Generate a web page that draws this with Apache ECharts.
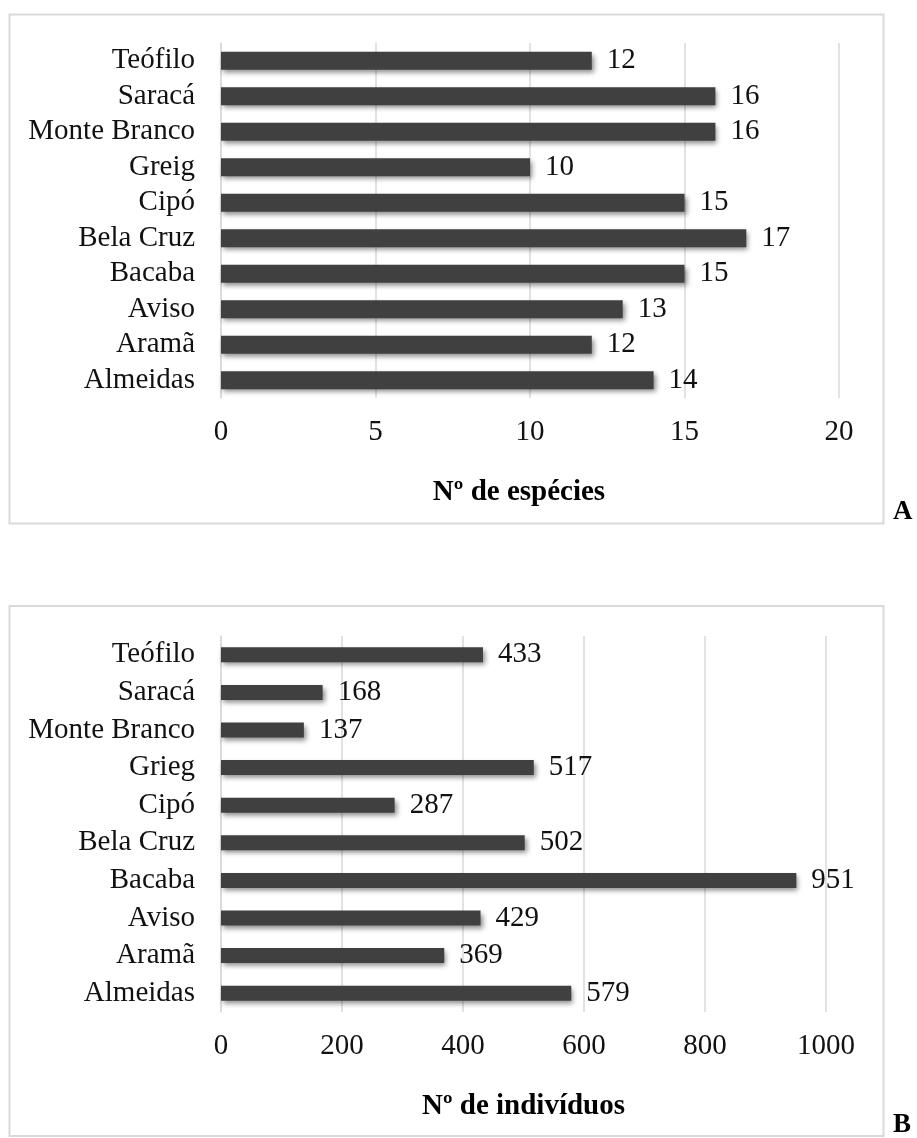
<!DOCTYPE html>
<html>
<head>
<meta charset="utf-8">
<script src="https://cdn.jsdelivr.net/npm/echarts@6/dist/echarts.min.js"></script>
<style>
html,body{margin:0;padding:0;background:#fff;}
#chart{width:917px;height:1138px;}
</style>
</head>
<body>
<div id="chart"></div>
<script>
// Categories listed bottom to top
const categoriesA = ['Almeidas','Aramã','Aviso','Bacaba','Bela Cruz','Cipó','Greig','Monte Branco','Saracá','Teófilo'];
const categoriesB = ['Almeidas','Aramã','Aviso','Bacaba','Bela Cruz','Cipó','Grieg','Monte Branco','Saracá','Teófilo'];
const especies = [14, 12, 13, 15, 17, 15, 10, 16, 16, 12];
const individuos = [579, 369, 429, 951, 502, 287, 517, 137, 168, 433];
const ticksA = {min: 0, max: 20, interval: 5};
const ticksB = {min: 0, max: 1000, interval: 200};
const axisTitleA = 'Nº de espécies';
const axisTitleB = 'Nº de indivíduos';
const panelLetters = ['A', 'B'];

const FONT = '"Liberation Serif", "Times New Roman", serif';
const barColor = '#404040';
const gridColor = '#d9d9d9';

const chart = echarts.init(document.getElementById('chart'), null, {renderer: 'canvas'});

function xAxisCfg(idx, t, title, titlePad) {
  return {
    type: 'value', gridIndex: idx, min: t.min, max: t.max, interval: t.interval,
    axisLine: {show: false}, axisTick: {show: false},
    splitLine: {show: true, lineStyle: {color: gridColor, width: 1.5}},
    axisLabel: {fontFamily: FONT, fontSize: 29, color: '#111', margin: 20, formatter: v => String(v)},
    name: title, nameLocation: 'middle', nameGap: 80,
    nameTextStyle: {fontFamily: FONT, fontSize: 29, fontWeight: 'bold', color: '#000', padding: titlePad}
  };
}
function yAxisCfg(idx, cats) {
  return {
    type: 'category', gridIndex: idx, data: cats,
    axisLine: {show: true, lineStyle: {color: gridColor, width: 1.5}},
    axisTick: {show: false},
    axisLabel: {interval: 0, fontFamily: FONT, fontSize: 29, color: '#111', margin: 26}
  };
}
function seriesCfg(idx, data, bw) {
  return {
    type: 'bar', xAxisIndex: idx, yAxisIndex: idx, data: data, barWidth: bw,
    itemStyle: {color: barColor, shadowColor: 'rgba(0,0,0,0.45)', shadowBlur: 5, shadowOffsetX: 2, shadowOffsetY: 3},
    label: {show: true, position: 'right', distance: 15, fontFamily: FONT, fontSize: 29, color: '#111'},
    animation: false
  };
}

chart.setOption({
  animation: false,
  backgroundColor: '#fff',
  grid: [
    {left: 221, top: 43, width: 618, height: 355},
    {left: 221, top: 636, width: 605, height: 376}
  ],
  xAxis: [xAxisCfg(0, ticksA, axisTitleA, [0, 22, 0, 0]), xAxisCfg(1, ticksB, axisTitleB, 0)],
  yAxis: [yAxisCfg(0, categoriesA), yAxisCfg(1, categoriesB)],
  series: [seriesCfg(0, especies, 18), seriesCfg(1, individuos, 15)],
  graphic: [
    {type: 'rect', z: -1, shape: {x: 9.5, y: 14.5, width: 874, height: 509}, style: {fill: 'none', stroke: gridColor, lineWidth: 2}},
    {type: 'rect', z: -1, shape: {x: 9.5, y: 606, width: 874, height: 530}, style: {fill: 'none', stroke: gridColor, lineWidth: 2}},
    {type: 'text', left: 893, top: 499, style: {text: panelLetters[0], font: 'bold 27px ' + FONT, fill: '#000'}},
    {type: 'text', left: 893, top: 1112, style: {text: panelLetters[1], font: 'bold 27px ' + FONT, fill: '#000'}}
  ]
});
</script>
</body>
</html>
